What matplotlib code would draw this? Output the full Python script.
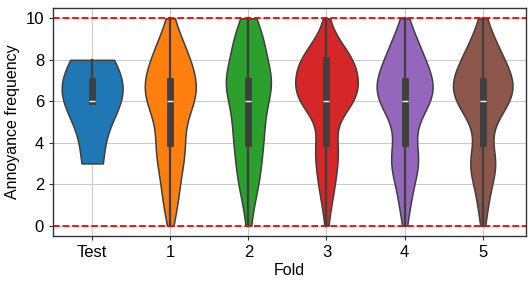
import numpy as np
import pandas as pd
import matplotlib
matplotlib.use("Agg")
import matplotlib.pyplot as plt
import seaborn as sns

# Annoyance frequency values (0..10) and number of answers per value, per fold
values = list(range(11))
folds = ["Test", "1", "2", "3", "4", "5"]
counts_test = [0, 0, 0, 1, 0, 0, 2, 1, 1, 0, 0]
counts_f1 = [1, 6, 5, 9, 11, 6, 19, 18, 13, 8, 1]
counts_f2 = [2, 2, 8, 7, 10, 10, 9, 22, 6, 14, 3]
counts_f3 = [1, 3, 6, 7, 10, 0, 25, 20, 22, 5, 1]
counts_f4 = [1, 5, 5, 14, 7, 6, 23, 23, 14, 10, 1]
counts_f5 = [1, 4, 4, 13, 3, 5, 21, 22, 13, 8, 1]
colors = ["#1f77b4", "#ff7f0e", "#2ca02c", "#d62728", "#9467bd", "#8c564b"]

all_counts = [counts_test, counts_f1, counts_f2, counts_f3, counts_f4, counts_f5]
rows = []
for f, c in zip(folds, all_counts):
    for v, n in zip(values, c):
        rows += [(f, v)] * n
df = pd.DataFrame(rows, columns=["Fold", "Annoyance frequency"])

plt.rcParams["font.family"] = ["Liberation Sans", "DejaVu Sans"]
fig = plt.figure(figsize=(5.31, 2.87), dpi=100)
ax = fig.add_axes([0.1, 0.178, 0.89, 0.794])

sns.violinplot(data=df, x="Fold", y="Annoyance frequency", hue="Fold",
               palette=colors, order=folds, hue_order=folds, cut=0,
               saturation=1, linewidth=1.1, linecolor="#3f3f3f",
               density_norm="area", common_norm=True,
               legend=False, ax=ax, inner="box")

ax.set_axisbelow(True)
ax.grid(True, axis="both", color="#cccccc", linewidth=0.8)
ax.axhline(0, color="red", linestyle="--", linewidth=1.3)
ax.axhline(10, color="red", linestyle="--", linewidth=1.3)
ax.set_ylim(-0.5, 10.5)
ax.set_xlim(-0.5, 5.55)
ax.set_yticks([0, 2, 4, 6, 8, 10])
ax.tick_params(labelsize=12, length=3, color="#333333")
ax.set_xlabel("Fold", fontsize=11.5, labelpad=2)
ax.set_ylabel("Annoyance frequency", fontsize=11.5, labelpad=4)
for s in ax.spines.values():
    s.set_color("#333333")
    s.set_linewidth(1.0)

fig.savefig("out.png", dpi=100)
